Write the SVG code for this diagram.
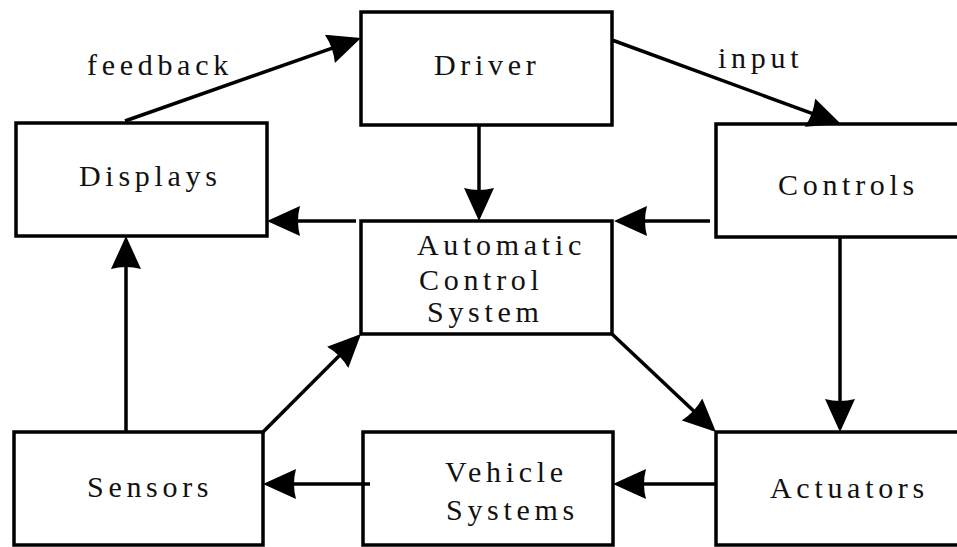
<svg xmlns="http://www.w3.org/2000/svg" width="957" height="547" viewBox="0 0 957 547">
  <style>
    .box { fill: #ffffff; stroke: #000000; stroke-width: 3.5; }
    .lbl { font-family: 'Liberation Serif', 'Times New Roman', serif; font-size: 30px; letter-spacing: 4.7px; fill: #111111; }
    .wire { fill: none; stroke: #000000; stroke-width: 3.5; marker-end: url(#head); }
  </style>
  <defs>
    <!-- solid arrowhead, tip 4px beyond the end of the line -->
    <marker id="head" markerUnits="userSpaceOnUse" markerWidth="34" markerHeight="30" viewBox="0 0 34 30" refX="29" refY="15" orient="auto">
      <path d="M0,0 L33,15 L0,30 Q4,15 0,0 Z" fill="#000000"/>
    </marker>
  </defs>
  <rect x="0" y="0" width="957" height="547" fill="#ffffff"/>

  <g id="driver">
    <rect class="box" x="361" y="12" width="251" height="113"/>
    <text class="lbl" x="434" y="75">Driver</text>
  </g>
  <g id="displays">
    <rect class="box" x="16" y="123" width="251" height="113"/>
    <text class="lbl" x="79" y="186">Displays</text>
  </g>
  <g id="controls">
    <rect class="box" x="716" y="124" width="270" height="113"/>
    <text class="lbl" x="778" y="195">Controls</text>
  </g>
  <g id="acs">
    <rect class="box" x="361" y="221" width="251" height="113"/>
    <text class="lbl" x="417" y="255">Automatic</text>
    <text class="lbl" x="419" y="290">Control</text>
    <text class="lbl" x="427" y="322">System</text>
  </g>
  <g id="sensors">
    <rect class="box" x="14" y="432" width="249" height="113"/>
    <text class="lbl" x="87" y="497">Sensors</text>
  </g>
  <g id="vehicle">
    <rect class="box" x="363" y="432" width="250" height="113"/>
    <text class="lbl" x="445" y="482">Vehicle</text>
    <text class="lbl" x="446" y="520">Systems</text>
  </g>
  <g id="actuators">
    <rect class="box" x="716" y="432" width="270" height="113"/>
    <text class="lbl" x="770" y="498">Actuators</text>
  </g>

  <g id="connectors">
    <line class="wire" x1="125" y1="121" x2="357.2" y2="39.3"/>
    <line class="wire" x1="612" y1="40" x2="837.2" y2="122.6"/>
    <line class="wire" x1="479" y1="125" x2="479" y2="217"/>
    <line class="wire" x1="356" y1="221" x2="271" y2="221"/>
    <line class="wire" x1="710" y1="221" x2="618" y2="221"/>
    <line class="wire" x1="840" y1="237" x2="840" y2="428"/>
    <line class="wire" x1="126" y1="432" x2="126" y2="240"/>
    <line class="wire" x1="263" y1="432" x2="358.2" y2="336.8"/>
    <line class="wire" x1="612" y1="334" x2="713.1" y2="429.3"/>
    <line class="wire" x1="716" y1="484" x2="617" y2="484"/>
    <line class="wire" x1="370" y1="484" x2="267" y2="484"/>
    <text class="lbl" x="87" y="75">feedback</text>
    <text class="lbl" x="718" y="68">input</text>
  </g>
</svg>
